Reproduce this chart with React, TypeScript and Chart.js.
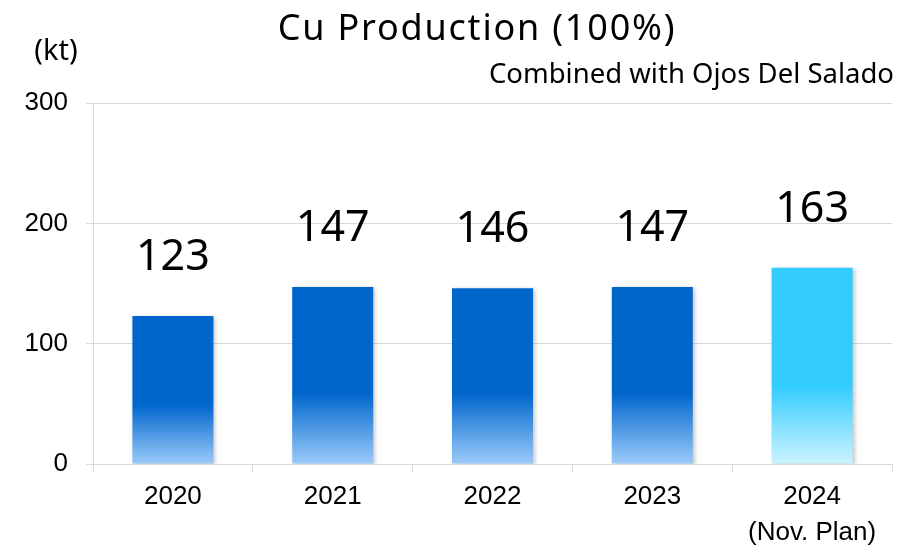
import React, { useEffect, useRef } from "react";
import { Chart, registerables } from "chart.js";

Chart.register(...registerables);

const categories: (string | string[])[] = ["2020", "2021", "2022", "2023", ["2024", "(Nov. Plan)"]];
const production = [123, 147, 146, 147, 163];
const valueLabels = ["123", "147", "146", "147", "163"];
const yTicks = [0, 100, 200, 300];
const topColors = ["#0066CC", "#0066CC", "#0066CC", "#0066CC", "#33CCFF"];
const bottomColors = ["#9CCBFA", "#9CCBFA", "#9CCBFA", "#9CCBFA", "#CCF3FF"];
const titleText = "Cu Production (100%)";
const subtitleText = "Combined with Ojos Del Salado";
const unitText = "(kt)";

const W = 917;
const H = 547;

export default function App() {
  const ref = useRef<HTMLCanvasElement | null>(null);

  useEffect(() => {
    const canvas = ref.current;
    if (!canvas) return;

    const shadowPlugin = {
      id: "barShadow",
      beforeDatasetsDraw(chart: any) {
        const c = chart.ctx;
        c.save();
        c.shadowColor = "rgba(0,0,0,0.22)";
        c.shadowBlur = 4;
        c.shadowOffsetX = 2;
        c.shadowOffsetY = 1;
      },
      afterDatasetsDraw(chart: any) {
        chart.ctx.restore();
        const c = chart.ctx;
        const meta = chart.getDatasetMeta(0);
        c.save();
        c.fillStyle = "#000000";
        c.font = '43px "Noto Sans"';
        c.textAlign = "center";
        c.textBaseline = "alphabetic";
        meta.data.forEach((bar: any, i: number) => {
          c.fillText(valueLabels[i], bar.x, bar.y - 46);
        });
        c.restore();
      },
      afterDraw(chart: any) {
        const c = chart.ctx;
        c.save();
        c.fillStyle = "#000000";
        c.textBaseline = "alphabetic";
        c.font = '36px "Noto Sans"';
        c.textAlign = "center";
        try { (c as any).letterSpacing = "1.8px"; } catch (e) {}
        c.fillText(titleText, 477, 40);
        try { (c as any).letterSpacing = "0px"; } catch (e) {}
        c.font = '27.5px "Noto Sans"';
        c.textAlign = "right";
        c.fillText(subtitleText, 894, 83);
        c.font = '29px "Noto Sans"';
        c.textAlign = "center";
        c.fillText(unitText, 56, 60);
        c.restore();
      },
    };

    const chart = new Chart(canvas, {
      type: "bar",
      data: {
        labels: categories,
        datasets: [
          {
            data: production,
            categoryPercentage: 1,
            barPercentage: 0.507,
            borderWidth: 0,
            backgroundColor: (ctx: any) => {
              const ch = ctx.chart;
              const area = ch.chartArea;
              const i = ctx.dataIndex;
              if (!area || i === undefined) return topColors[0];
              const y = ch.scales.y;
              const top = y.getPixelForValue(production[i]);
              const base = y.getPixelForValue(0);
              const g = ch.ctx.createLinearGradient(0, base, 0, top);
              g.addColorStop(0, bottomColors[i]);
              g.addColorStop(0.4, topColors[i]);
              g.addColorStop(1, topColors[i]);
              return g;
            },
          },
        ],
      },
      options: {
        responsive: false,
        animation: false,
        devicePixelRatio: 1,
        layout: { padding: { left: 0, right: 25, top: 103, bottom: 0 } },
        plugins: {
          legend: { display: false },
          title: { display: false },
          tooltip: { enabled: false },
        },
        scales: {
          x: {
            grid: {
              offset: true,
              drawOnChartArea: false,
              drawTicks: true,
              tickLength: 8,
              color: "#D9D9D9",
            },
            border: { display: true, color: "#D9D9D9" },
            ticks: {
              color: "#000000",
              font: { family: '"Liberation Sans", Arial, sans-serif', size: 26, lineHeight: 1.38 },
              padding: 7,
              maxRotation: 0,
              autoSkip: false,
            },
            afterFit: (s: any) => {
              s.height = 83;
            },
          },
          y: {
            min: 0,
            max: 300,
            afterBuildTicks: (s: any) => {
              s.ticks = yTicks.map((v) => ({ value: v }));
            },
            grid: { color: "#D9D9D9", tickLength: 7 },
            border: { display: true, color: "#D9D9D9" },
            ticks: {
              color: "#000000",
              font: { family: '"Liberation Sans", Arial, sans-serif', size: 26 },
              padding: 18,
            },
            afterFit: (s: any) => {
              s.width = 93;
            },
          },
        },
      },
      plugins: [shadowPlugin],
    } as any);

    return () => chart.destroy();
  }, []);

  return (
    <div style={{ position: "absolute", left: 0, top: 0, width: W, height: H, background: "#ffffff" }}>
      <canvas ref={ref} width={W} height={H} style={{ display: "block", width: W, height: H }} />
    </div>
  );
}
